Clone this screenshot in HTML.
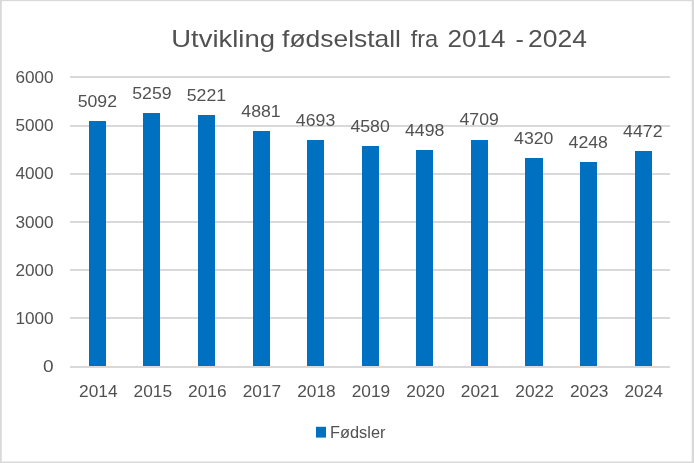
<!DOCTYPE html>
<html lang="no">
<head>
<meta charset="utf-8">
<title>Utvikling fødselstall fra 2014 - 2024</title>
<style>
html,body{margin:0;padding:0;background:#fff;}
body{width:694px;height:463px;overflow:hidden;}
svg{display:block;will-change:transform;}
text{font-family:"Liberation Sans",sans-serif;fill:#515151;}
</style>
</head>
<body>
<svg width="694" height="463" viewBox="0 0 694 463">
<rect x="0" y="0" width="694" height="463" fill="#fff"/>
<g fill="#d9d9d9">
<rect x="0" y="0" width="694" height="1.2"/>
<rect x="0" y="0" width="1.8" height="463"/>
<rect x="691.7" y="0" width="2.3" height="463"/>
<rect x="0" y="461.5" width="694" height="1.5"/>
</g>
<text y="47.20" font-size="23.60" fill="#595959"><tspan x="171.30" textLength="103.68" lengthAdjust="spacingAndGlyphs">Utvikling</tspan> <tspan x="282.10" textLength="118.91" lengthAdjust="spacingAndGlyphs">fødselstall</tspan> <tspan x="410.70" textLength="27.54" lengthAdjust="spacingAndGlyphs">fra</tspan> <tspan x="447.40" textLength="58.04" lengthAdjust="spacingAndGlyphs">2014</tspan> <tspan x="515.60" textLength="8.34" lengthAdjust="spacingAndGlyphs">-</tspan> <tspan x="528.10" textLength="58.96" lengthAdjust="spacingAndGlyphs">2024</tspan></text>
<g fill="#d9d9d9">
<rect x="70" y="366" width="600" height="2"/>
<rect x="70" y="317" width="600" height="2"/>
<rect x="70" y="269" width="600" height="2"/>
<rect x="70" y="221" width="600" height="2"/>
<rect x="70" y="173" width="600" height="2"/>
<rect x="70" y="125" width="600" height="2"/>
<rect x="70" y="76" width="600" height="2"/>
</g>
<g font-size="16.80" text-anchor="end">
<text x="53.6" y="372.00" textLength="10.60" lengthAdjust="spacingAndGlyphs">0</text>
<text x="53.6" y="323.90" textLength="38.20" lengthAdjust="spacingAndGlyphs">1000</text>
<text x="53.6" y="275.90" textLength="38.20" lengthAdjust="spacingAndGlyphs">2000</text>
<text x="53.6" y="227.90" textLength="38.20" lengthAdjust="spacingAndGlyphs">3000</text>
<text x="53.6" y="179.00" textLength="38.20" lengthAdjust="spacingAndGlyphs">4000</text>
<text x="53.6" y="131.00" textLength="38.20" lengthAdjust="spacingAndGlyphs">5000</text>
<text x="53.6" y="82.90" textLength="38.20" lengthAdjust="spacingAndGlyphs">6000</text>
</g>
<g fill="#0070c0">
<rect x="89" y="121" width="17" height="245"/>
<rect x="143" y="113" width="17" height="253"/>
<rect x="198" y="115" width="17" height="251"/>
<rect x="253" y="131" width="17" height="235"/>
<rect x="307" y="140" width="17" height="226"/>
<rect x="362" y="146" width="17" height="220"/>
<rect x="416" y="150" width="17" height="216"/>
<rect x="471" y="140" width="17" height="226"/>
<rect x="525" y="158" width="18" height="208"/>
<rect x="580" y="162" width="17" height="204"/>
<rect x="635" y="151" width="17" height="215"/>
</g>
<rect x="70" y="366" width="600" height="2" fill="#d9d9d9"/>
<g font-size="16.80" text-anchor="middle">
<text x="97.37" y="106.89" textLength="39.40" lengthAdjust="spacingAndGlyphs">5092</text>
<text x="151.92" y="98.81" textLength="39.40" lengthAdjust="spacingAndGlyphs">5259</text>
<text x="206.46" y="100.65" textLength="39.40" lengthAdjust="spacingAndGlyphs">5221</text>
<text x="261.01" y="117.08" textLength="39.40" lengthAdjust="spacingAndGlyphs">4881</text>
<text x="315.55" y="126.17" textLength="39.40" lengthAdjust="spacingAndGlyphs">4693</text>
<text x="370.10" y="131.63" textLength="39.40" lengthAdjust="spacingAndGlyphs">4580</text>
<text x="424.65" y="135.60" textLength="39.40" lengthAdjust="spacingAndGlyphs">4498</text>
<text x="479.19" y="125.40" textLength="39.40" lengthAdjust="spacingAndGlyphs">4709</text>
<text x="533.74" y="144.20" textLength="39.40" lengthAdjust="spacingAndGlyphs">4320</text>
<text x="588.28" y="147.68" textLength="39.40" lengthAdjust="spacingAndGlyphs">4248</text>
<text x="642.83" y="136.85" textLength="39.40" lengthAdjust="spacingAndGlyphs">4472</text>
<text x="98.27" y="397.00" textLength="38.50" lengthAdjust="spacingAndGlyphs">2014</text>
<text x="152.82" y="397.00" textLength="38.50" lengthAdjust="spacingAndGlyphs">2015</text>
<text x="207.36" y="397.00" textLength="38.50" lengthAdjust="spacingAndGlyphs">2016</text>
<text x="261.91" y="397.00" textLength="38.50" lengthAdjust="spacingAndGlyphs">2017</text>
<text x="316.45" y="397.00" textLength="38.50" lengthAdjust="spacingAndGlyphs">2018</text>
<text x="371.00" y="397.00" textLength="38.50" lengthAdjust="spacingAndGlyphs">2019</text>
<text x="425.55" y="397.00" textLength="38.50" lengthAdjust="spacingAndGlyphs">2020</text>
<text x="480.09" y="397.00" textLength="38.50" lengthAdjust="spacingAndGlyphs">2021</text>
<text x="534.64" y="397.00" textLength="38.50" lengthAdjust="spacingAndGlyphs">2022</text>
<text x="589.18" y="397.00" textLength="38.50" lengthAdjust="spacingAndGlyphs">2023</text>
<text x="643.73" y="397.00" textLength="38.50" lengthAdjust="spacingAndGlyphs">2024</text>
</g>
<rect x="316" y="426.8" width="10" height="10.8" fill="#0070c0"/>
<text x="330.10" y="437.50" font-size="15.60" textLength="55.3" lengthAdjust="spacingAndGlyphs">Fødsler</text>
</svg>
</body>
</html>
